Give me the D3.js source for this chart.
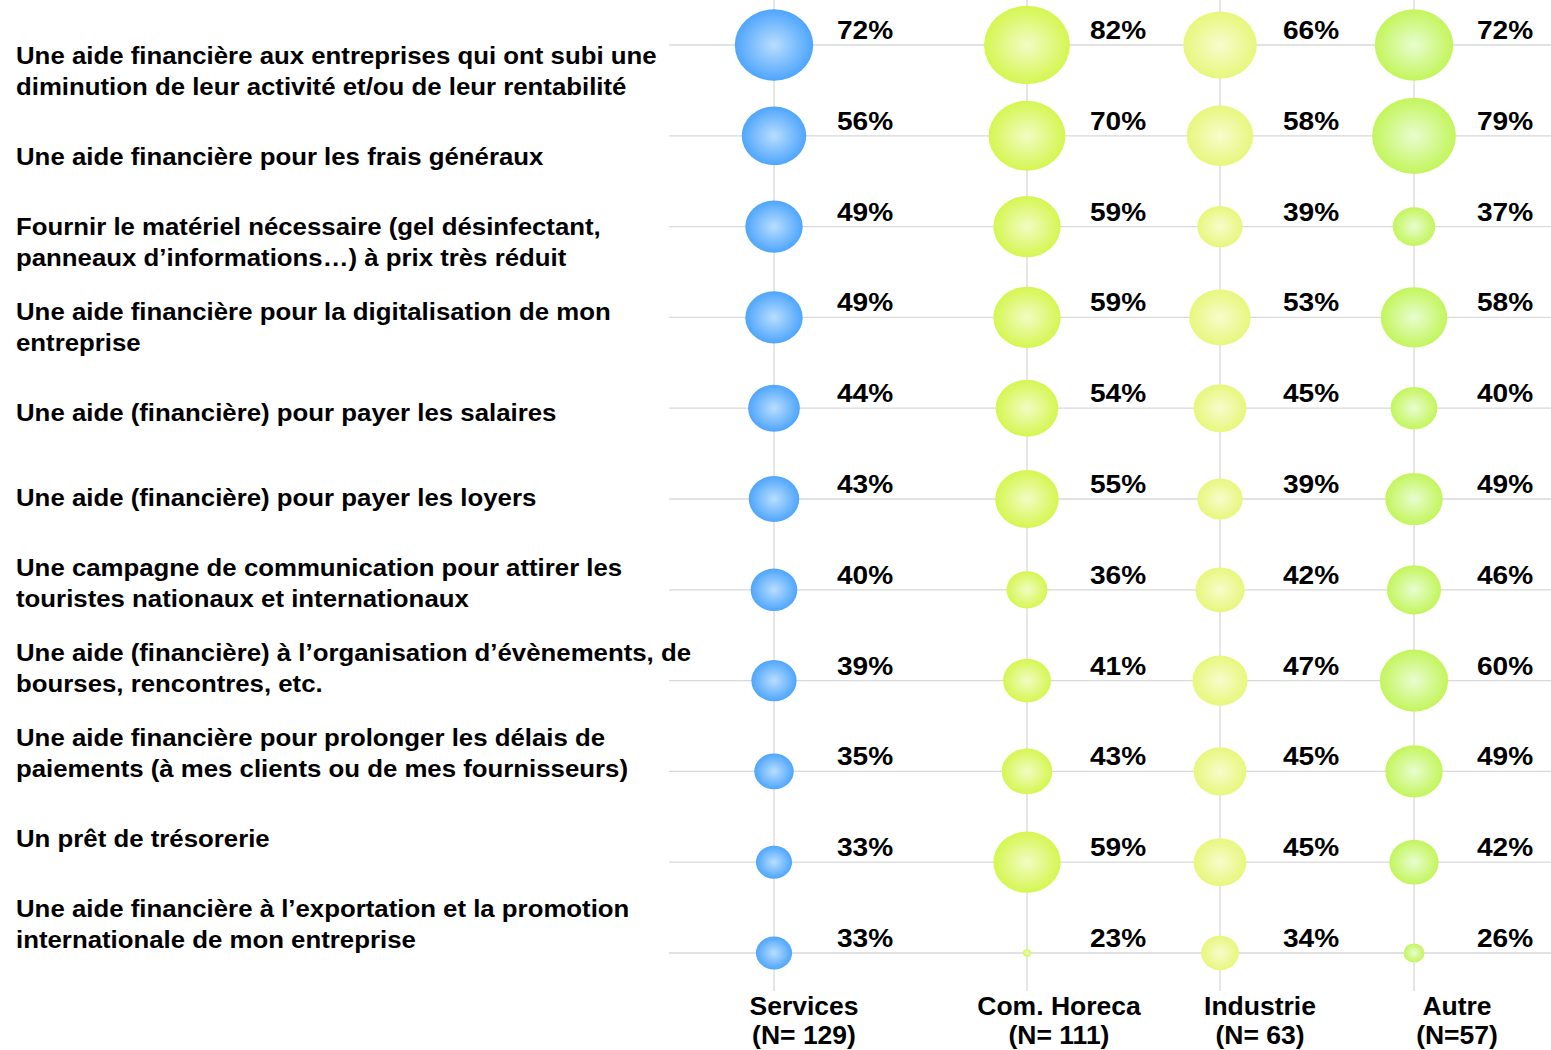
<!DOCTYPE html>
<html>
<head>
<meta charset="utf-8">
<script src="https://cdn.jsdelivr.net/npm/d3@7"></script>
<style>
  html, body { margin: 0; padding: 0; background: #fff; }
  svg { display: block; }
  text { font-family: "Liberation Sans", Arial, sans-serif; font-weight: bold; fill: #000; }
</style>
</head>
<body>
<svg id="chart" width="1551" height="1050"></svg>
<script>
// ---------- data ----------
const items = [
  ["Une aide financière aux entreprises qui ont subi une", "diminution de leur activité et/ou de leur rentabilité"],
  ["Une aide financière pour les frais généraux"],
  ["Fournir le matériel nécessaire (gel désinfectant,", "panneaux d’informations…) à prix très réduit"],
  ["Une aide financière pour la digitalisation de mon", "entreprise"],
  ["Une aide (financière) pour payer les salaires"],
  ["Une aide (financière) pour payer les loyers"],
  ["Une campagne de communication pour attirer les", "touristes nationaux et internationaux"],
  ["Une aide (financière) à l’organisation d’évènements, de", "bourses, rencontres, etc."],
  ["Une aide financière pour prolonger les délais de", "paiements (à mes clients ou de mes fournisseurs)"],
  ["Un prêt de trésorerie"],
  ["Une aide financière à l’exportation et la promotion", "internationale de mon entreprise"]
];
const groups = ["Services", "Com. Horeca", "Industrie", "Autre"];
const groupN = ["(N= 129)", "(N= 111)", "(N= 63)", "(N=57)"];
const services = [72, 56, 49, 49, 44, 43, 40, 39, 35, 33, 33];
const horeca   = [82, 70, 59, 59, 54, 55, 36, 41, 43, 59, 23];
const industrie= [66, 58, 39, 53, 45, 39, 42, 47, 45, 45, 34];
const autre    = [72, 79, 37, 58, 40, 49, 46, 60, 49, 42, 26];
const seriesValues = [services, horeca, industrie, autre];
const colorEdge   = ["#4ea5fd", "#d5f650", "#e7f77c", "#c3f55b"];
const colorCenter = ["#b9defe", "#f1fcc4", "#f7fccc", "#e8fdd0"];

// ---------- layout ----------
const svg = d3.select("#chart");
const W = 1551;
const idx = d3.range(items.length);

const yRow = d3.scalePoint().domain(idx).range([45, 953]);
const yLabel = d3.scalePoint().domain(idx).range([71, 924]);
const xCol = d3.scaleOrdinal().domain(groups).range([774, 1027, 1220, 1414]);
const xColLabel = d3.scaleOrdinal().domain(groups).range([804, 1059, 1260, 1457]);
const allVals = seriesValues.flat();
const areaScale = d3.scaleLinear().domain([d3.min(allVals) - 0.5, d3.max(allVals)]).range([0, 43 * 43]);
const rx = v => Math.sqrt(areaScale(v));
const ryRatio = 0.91;
const stretch = 1.075;

// gradients
const defs = svg.append("defs");
groups.forEach((g, i) => {
  const grad = defs.append("radialGradient").attr("id", "grad" + i)
    .attr("cx", "50%").attr("cy", "50%").attr("r", "50%");
  grad.append("stop").attr("offset", "0%").attr("stop-color", colorCenter[i]);
  grad.append("stop").attr("offset", "100%").attr("stop-color", colorEdge[i]);
});

// grid
const grid = svg.append("g").attr("stroke", "#d9d9d9").attr("stroke-width", 1.3);
grid.selectAll("line.h").data(idx).join("line")
  .attr("x1", 669).attr("x2", W)
  .attr("y1", d => yRow(d)).attr("y2", d => yRow(d));
grid.selectAll("line.v").data(groups).join("line")
  .attr("x1", d => xCol(d)).attr("x2", d => xCol(d))
  .attr("y1", 0).attr("y2", 991);

// bubbles
groups.forEach((g, gi) => {
  const vals = seriesValues[gi];
  svg.append("g").selectAll("ellipse").data(vals).join("ellipse")
    .attr("cx", xCol(g))
    .attr("cy", (d, i) => yRow(i))
    .attr("rx", d => Math.max(rx(d), 4))
    .attr("ry", d => Math.max(rx(d), 4) * ryRatio)
    .attr("fill", `url(#grad${gi})`);
  svg.append("g").selectAll("text").data(vals).join("text")
    .attr("transform", (d, i) => `translate(${xCol(g) + 91},${yRow(i) - 6}) scale(1.08,1)`)
    .attr("text-anchor", "middle")
    .style("font-size", "26px")
    .text(d => d + "%");
});

// left labels
const lab = svg.append("g");
items.forEach((lines, i) => {
  const n = lines.length;
  lines.forEach((t, j) => {
    lab.append("text")
      .attr("transform", `translate(16,${yLabel(i) + (j - (n - 1) / 2) * 31 + 8.5}) scale(${stretch},1)`)
      .style("font-size", "24px")
      .text(t);
  });
});

// column labels
const cl = svg.append("g");
groups.forEach((g, i) => {
  cl.append("text").attr("x", xColLabel(g)).attr("y", 1015)
    .attr("text-anchor", "middle").style("font-size", "26.5px").text(g);
  cl.append("text").attr("x", xColLabel(g)).attr("y", 1044)
    .attr("text-anchor", "middle").style("font-size", "26.5px").text(groupN[i]);
});
</script>
</body>
</html>
